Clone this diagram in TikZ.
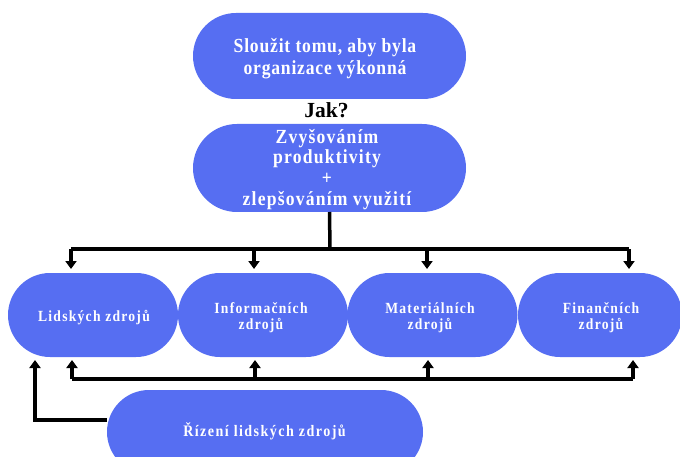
\documentclass[tikz,border=0pt]{standalone}
\usepackage{fontspec}
\setmainfont{Liberation Serif}
\newfontfamily\topfont{Liberation Serif}[FakeStretch=0.88,LetterSpace=4]
\newfontfamily\howfont{Liberation Serif}[FakeStretch=0.88,LetterSpace=6]
\newfontfamily\smallspaced{Liberation Serif}[FakeStretch=0.88,LetterSpace=8]
\newfontfamily\hrmspaced{Liberation Serif}[FakeStretch=0.88,LetterSpace=9]
\usetikzlibrary{arrows.meta}
\definecolor{boxblue}{RGB}{86,110,242}
\newcommand\stk[2]{\vtop{\baselineskip=#1\lineskiplimit=-100pt\lineskip=0pt\halign{\hfil##\hfil\cr#2\crcr}}}
\tikzset{
  pill/.style={fill=boxblue, inner sep=0pt, outer sep=0pt},
  pilltext/.style={text=white, inner sep=0pt, anchor=base},
  conn/.style={line width=3.5pt, black},
  arr/.style={conn, -{Triangle[width=11pt,length=8pt]}}
}
\begin{document}
\begin{tikzpicture}[x=1pt,y=-1pt]
\useasboundingbox (0,0) rectangle (680,457);
% top box
\node[pill, minimum width=273pt, minimum height=86pt, rounded corners=43pt] (goal) at (329.5,56) {};
\node[pilltext, font=\topfont\bfseries\fontsize{20}{21.5}\selectfont] (goaltext) at (325,53)
  {\stk{21.5pt}{Sloužit tomu, aby byla\cr organizace výkonná}};
\node[font=\bfseries\fontsize{21.5}{24}\selectfont, inner sep=0pt, anchor=base] (jak) at (326.5,118) {Jak?};
\node[pill, minimum width=273pt, minimum height=88pt, rounded corners=44pt] (how) at (329.5,168) {};
\node[pilltext, font=\howfont\bfseries\fontsize{20}{20.6}\selectfont] (howtext) at (327,143.3)
  {\stk{20.6pt}{Zvyšováním\cr produktivity\cr +\cr zlepšováním využití}};
% resource boxes
\node[pill, minimum width=170pt, minimum height=84pt, rounded corners=42pt] (lid) at (93,315) {};
\node[pill, minimum width=170pt, minimum height=84pt, rounded corners=42pt] (inf) at (263,315) {};
\node[pill, minimum width=170pt, minimum height=84pt, rounded corners=42pt] (mat) at (432.5,315) {};
\node[pill, minimum width=164pt, minimum height=84pt, rounded corners=42pt] (fin) at (600,315) {};
\tikzset{restext/.style={pilltext, font=\smallspaced\bfseries\fontsize{15.5}{16.5}\selectfont}}
\node[restext] (lidtext) at (94,321) {Lidských zdrojů};
\node[restext] (inftext) at (261,313) {\stk{16.5pt}{Informačních\cr zdrojů}};
\node[restext] (mattext) at (430,313) {\stk{16.5pt}{Materiálních\cr zdrojů}};
\node[restext] (fintext) at (601,313) {\stk{16.5pt}{Finančních\cr zdrojů}};
% HR management
\node[pill, minimum width=316pt, minimum height=84pt, rounded corners=42pt] (hrm) at (265,432) {};
\node[pilltext, font=\hrmspaced\bfseries\fontsize{16}{18}\selectfont] (hrmtext) at (264.5,436) {Řízení lidských zdrojů};
% top bus
\coordinate (busT) at (330,249);
\coordinate (tL) at (71,249);
\coordinate (tR) at (629,249);
\draw[conn] (how.south) -- (busT);
\draw[conn] (tL) -- (tR);
\draw[arr] (tL) -- (71,269);
\draw[arr] (254,249) -- (254,269);
\draw[arr] (427,249) -- (427,269);
\draw[arr] (tR) -- (629,269);
% bottom bus
\coordinate (bL) at (72,379);
\coordinate (bR) at (633,379);
\draw[conn] (bL) -- (bR);
\draw[arr] (bL) -- (72,360);
\draw[arr] (255,379) -- (255,360);
\draw[arr] (428,379) -- (428,360);
\draw[arr] (bR) -- (633,360);
% feedback
\draw[arr] (hrm.west |- 0,420) -- (35,420) -- (35,360);
\end{tikzpicture}
\end{document}
